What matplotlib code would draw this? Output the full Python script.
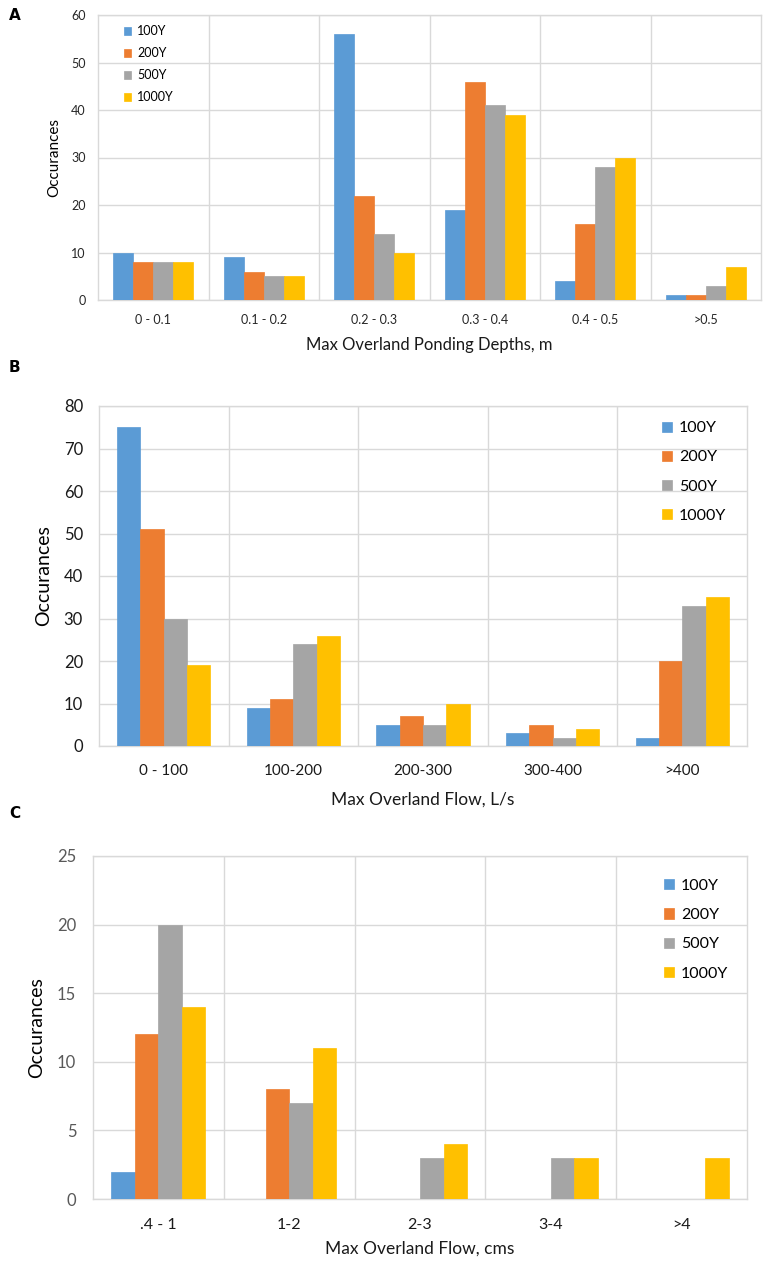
import matplotlib
matplotlib.use("Agg")
import matplotlib.pyplot as plt
import numpy as np

plt.rcParams['font.family'] = ['Lato', 'DejaVu Sans']

series = ['100Y', '200Y', '500Y', '1000Y']
colors = ['#5B9BD5', '#ED7D31', '#A5A5A5', '#FFC000']

# panel A: ponding depths
cats_a = ['0 - 0.1', '0.1 - 0.2', '0.2 - 0.3', '0.3 - 0.4', '0.4 - 0.5', '>0.5']
a_100 = [10, 9, 56, 19, 4, 1]
a_200 = [8, 6, 22, 46, 16, 1]
a_500 = [8, 5, 14, 41, 28, 3]
a_1000 = [8, 5, 10, 39, 30, 7]

# panel B: overland flow L/s
cats_b = ['0 - 100', '100-200', '200-300', '300-400', '>400']
b_100 = [75, 9, 5, 3, 2]
b_200 = [51, 11, 7, 5, 20]
b_500 = [30, 24, 5, 2, 33]
b_1000 = [19, 26, 10, 4, 35]

# panel C: overland flow cms
cats_c = ['.4 - 1', '1-2', '2-3', '3-4', '>4']
c_100 = [2, 0, 0, 0, 0]
c_200 = [12, 8, 0, 0, 0]
c_500 = [20, 7, 3, 3, 0]
c_1000 = [14, 11, 4, 3, 3]

W, H = 765, 1263
fig = plt.figure(figsize=(W / 100, H / 100), dpi=100)


def box(l, t, r, b):
    return [l / W, 1 - b / H, (r - l) / W, (b - t) / H]


def draw(ax, cats, data, ymax, step, xlabel, st):
    n = len(cats)
    x = np.arange(n)
    bw = 0.18
    for i, (vals, col) in enumerate(zip(data, colors)):
        ax.bar(x + (i - 1.5) * bw, vals, bw, color=col, label=series[i],
               edgecolor=col, linewidth=0.5, zorder=3)
    ax.set_xlim(-0.5, n - 0.5)
    ax.set_ylim(0, ymax)
    ax.set_yticks(np.arange(0, ymax + 1, step))
    ax.set_xticks(x)
    ax.set_xticklabels(cats)
    # category separators
    for b in np.arange(0.5, n - 0.5, 1):
        ax.axvline(b, color='#D9D9D9', lw=1, zorder=1)
    ax.yaxis.grid(True, color='#D9D9D9', lw=1, zorder=1)
    ax.set_axisbelow(True)
    for s in ax.spines.values():
        s.set_color('#D9D9D9')
        s.set_linewidth(1)
    ax.tick_params(length=0)
    ax.tick_params(axis='x', pad=st['xpad'], labelsize=st['xtick'],
                   labelcolor=st['xtickcol'])
    ax.tick_params(axis='y', pad=st['ypad'], labelsize=st['ytick'],
                   labelcolor=st['ytickcol'])
    ax.set_xlabel(xlabel, fontsize=st['xlab'], labelpad=st['xlabpad'],
                  color='#1a1a1a')
    ax.set_ylabel('Occurances', fontsize=st['ylab'], color='#000000')
    ax.yaxis.set_label_coords(st['ylabx'], 0.5)
    ax.legend(loc='upper left', bbox_to_anchor=st['leg'], frameon=False,
              fontsize=st['legfs'], handlelength=0.6, handleheight=0.6,
              handletextpad=0.45, labelspacing=st['legsp'], borderpad=0,
              borderaxespad=0)


style_a = dict(xtick=9, ytick=9, ytickcol='#262626', xtickcol='#262626',
               xpad=10, ypad=9, xlab=12, xlabpad=8, ylab=11, ylabx=-0.056,
               leg=(0.039, 0.965), legfs=9, legsp=0.8)
style_b = dict(xtick=11, ytick=12, ytickcol='#1a1a1a', xtickcol='#1a1a1a',
               xpad=13, ypad=11.5, xlab=12.5, xlabpad=10, ylab=14, ylabx=-0.0725,
               leg=(0.869, 0.955), legfs=11.5, legsp=0.95)
style_c = dict(xtick=11.5, ytick=12, ytickcol='#595959', xtickcol='#1a1a1a',
               xpad=14, ypad=12, xlab=12.5, xlabpad=6, ylab=14, ylabx=-0.0734,
               leg=(0.873, 0.933), legfs=11.5, legsp=0.95)

ax_a = fig.add_axes(box(98, 15, 761, 300))
draw(ax_a, cats_a, [a_100, a_200, a_500, a_1000], 60, 10,
     'Max Overland Ponding Depths, m', style_a)

ax_b = fig.add_axes(box(99, 406, 747, 746))
draw(ax_b, cats_b, [b_100, b_200, b_500, b_1000], 80, 10,
     'Max Overland Flow, L/s', style_b)

ax_c = fig.add_axes(box(93, 856, 747, 1199))
draw(ax_c, cats_c, [c_100, c_200, c_500, c_1000], 25, 5,
     'Max Overland Flow, cms', style_c)

for lab, y in [('A', 15), ('B', 368), ('C', 814)]:
    fig.text(9 / W, 1 - y / H, lab, fontsize=11, fontweight='bold',
             family='DejaVu Sans', va='center', ha='left')

fig.savefig('out.png', dpi=100)
